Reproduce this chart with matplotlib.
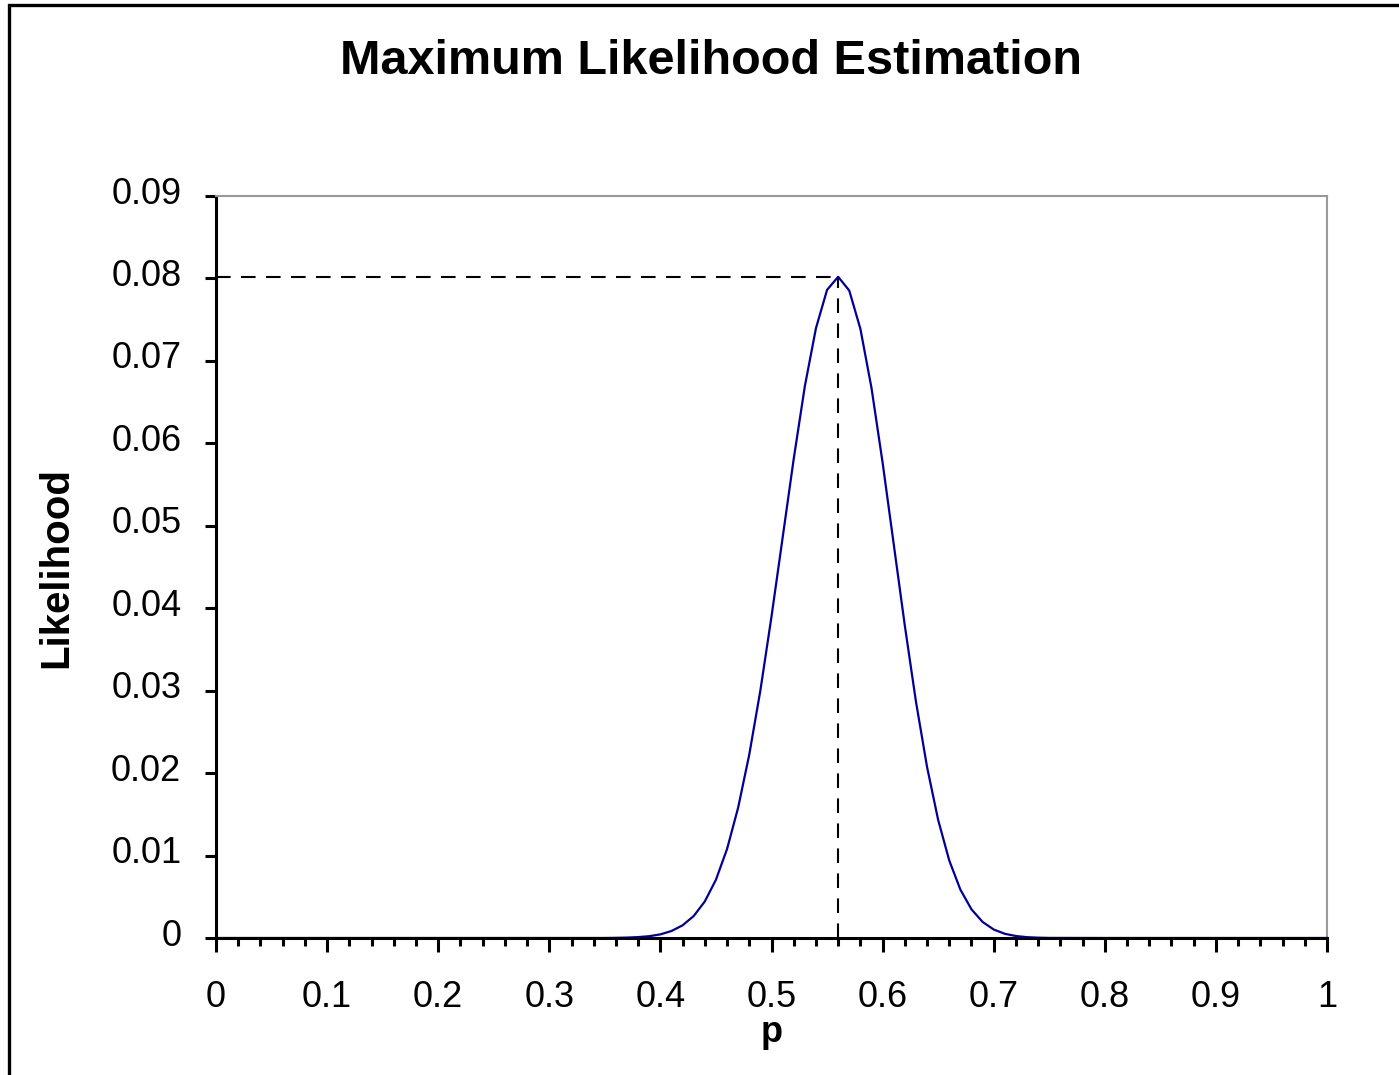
import matplotlib
matplotlib.use("Agg")
import matplotlib.pyplot as plt
import matplotlib.transforms as mtransforms
from matplotlib.patches import Rectangle
from matplotlib.ticker import MultipleLocator

# values, p in steps of 0.01
p = [0.00, 0.30, 0.35, 0.36, 0.37, 0.38, 0.39, 0.40, 0.41, 0.42, 0.43, 0.44, 0.45,
     0.46, 0.47, 0.48, 0.49, 0.50, 0.51, 0.52, 0.53, 0.54, 0.55, 0.56, 0.57,
     0.58, 0.59, 0.60, 0.61, 0.62, 0.63, 0.64, 0.65, 0.66, 0.67, 0.68, 0.69,
     0.70, 0.71, 0.72, 0.73, 0.74, 0.75, 0.80, 1.00]
likelihood = [0.0, 0.0, 0.0, 0.00002, 0.00005, 0.00011, 0.00022, 0.00044, 0.00085,
              0.00154, 0.00267, 0.00444, 0.00707, 0.0108, 0.01583, 0.02226,
              0.03004, 0.03899, 0.04854, 0.05812, 0.06692, 0.07396, 0.07861,
              0.0802, 0.07853, 0.07389, 0.06672, 0.05766, 0.04778, 0.03789,
              0.02869, 0.02075, 0.01432, 0.0094, 0.00587, 0.00348, 0.00195,
              0.00103, 0.00051, 0.00024, 0.0001, 0.00004, 0.00001, 0.0, 0.0]
p_max = 0.56
l_max = 0.0802

xticks = [0.1 * i for i in range(11)]
xtick_labels = ["0", "0.1", "0.2", "0.3", "0.4", "0.5", "0.6", "0.7", "0.8", "0.9", "1"]
yticks = [0.01 * i for i in range(10)]
ytick_labels = ["0", "0.01", "0.02", "0.03", "0.04", "0.05", "0.06", "0.07", "0.08", "0.09"]

title = "Maximum Likelihood Estimation"
xlabel = "p"
ylabel = "Likelihood"
font = "Liberation Sans"

fig = plt.figure(figsize=(13.99, 10.75), dpi=100)
fig.patch.set_facecolor("white")
# outer frame (only top and left edges visible in the image)
fig.patches.append(Rectangle((8.5 / 1399, -0.1), 1.2, 1.1 - 5.5 / 1075,
                             transform=fig.transFigure, fill=False,
                             edgecolor="black", linewidth=2.4))

ax = fig.add_axes([216 / 1399, 1 - 938 / 1075, 1111 / 1399, 742 / 1075])

# dashed guide lines to the maximum
ax.plot([0, p_max], [l_max, l_max], color="black", lw=1.5, dashes=(7, 5), zorder=2)
ax.plot([p_max, p_max], [0, l_max], color="black", lw=1.5, dashes=(7, 5), zorder=2)
ax.plot(p, likelihood, color="#000099", lw=1.6, zorder=3, clip_on=False)

ax.set_xlim(0, 1)
ax.set_ylim(0, 0.09)
ax.set_xticks(xticks)
ax.set_xticklabels(xtick_labels)
ax.xaxis.set_minor_locator(MultipleLocator(0.02))
ax.set_yticks(yticks)
ax.set_yticklabels(ytick_labels)

for s in ["top", "right"]:
    ax.spines[s].set_color("#999999")
    ax.spines[s].set_linewidth(1.5)
for s in ["left", "bottom"]:
    ax.spines[s].set_color("black")
    ax.spines[s].set_linewidth(2.2)
ax.spines["bottom"].set_zorder(4)

ax.tick_params(axis="both", which="major", direction="out", width=2.2, color="black",
               labelsize=26)
ax.tick_params(axis="x", which="major", length=10, pad=20)
ax.tick_params(axis="x", which="minor", length=6, width=2.2, direction="out")
ax.tick_params(axis="y", which="major", length=8, pad=17)

# y labels sit a little above their ticks in the original
up = mtransforms.ScaledTranslation(0, 6 / 100, fig.dpi_scale_trans)
for lab in ax.get_yticklabels():
    lab.set_transform(lab.get_transform() + up)
for lab in ax.get_xticklabels() + ax.get_yticklabels():
    lab.set_fontfamily(font)

ax.set_xlabel(xlabel, fontsize=26, fontweight="bold", fontfamily=font, labelpad=0)
ax.set_ylabel(ylabel, fontsize=29, fontweight="bold", fontfamily=font, labelpad=26)

fig.text(711 / 1399, 1 - 62 / 1075, title, ha="center", va="center",
         fontsize=35, fontweight="bold", fontfamily=font)

fig.savefig("out.png", dpi=100)
